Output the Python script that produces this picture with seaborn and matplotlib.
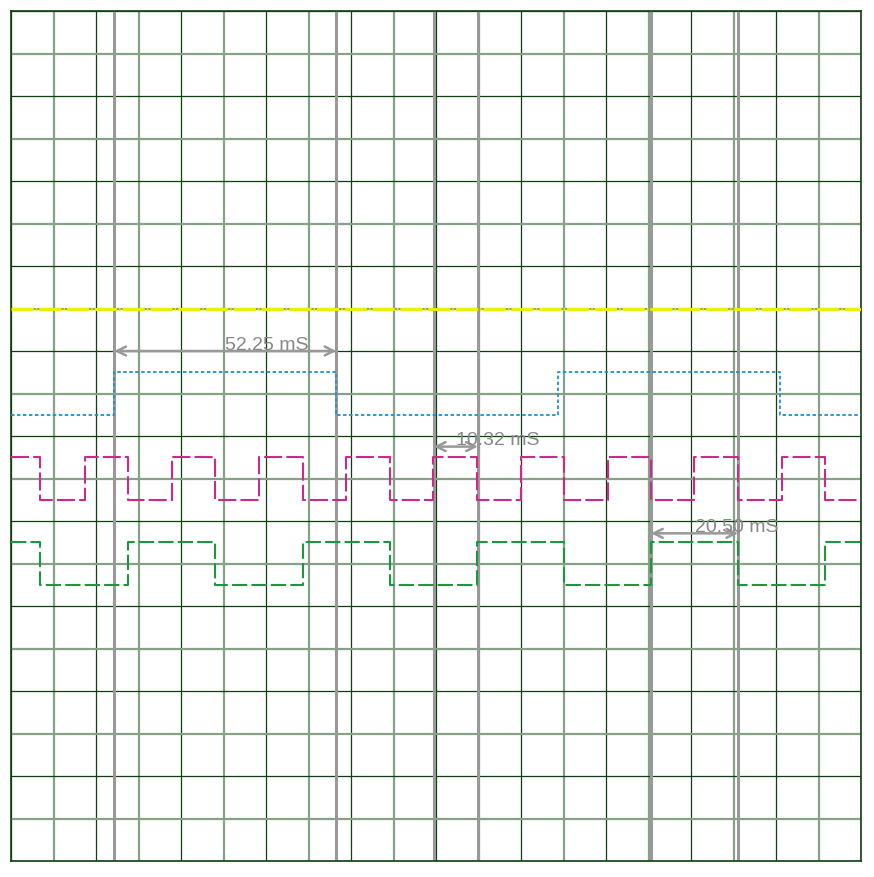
import numpy as np
import pandas as pd
import seaborn as sns
import matplotlib.pyplot as plt

# =============================================================================
# Signal data (time in ms, level in grid divisions from the bottom)
# =============================================================================
T_END = 200.0

# yellow reference trace, flat
yellow_level = 13.0

# blue trace: starts low, toggles at these times
blue_edges = [24.3, 76.55, 128.8, 181.0]
blue_levels = (10.5, 11.5)      # low, high
blue_start_high = False

# magenta clock: starts high
magenta_edges = [6.9, 17.4, 27.5, 37.9, 48.1, 58.4, 68.6, 78.8, 89.2, 99.4,
                 109.7, 119.9, 130.1, 140.4, 150.6, 160.8, 171.1, 181.3, 191.5]
magenta_levels = (8.5, 9.5)
magenta_start_high = True

# green divided clock: starts high
green_edges = [6.9, 27.5, 48.1, 68.6, 89.2, 109.7, 130.1, 150.6, 171.1, 191.5]
green_levels = (6.5, 7.5)
green_start_high = True

# cursor pairs: (start, end, label, arrow level)
cursor_starts = [24.3, 99.5, 150.6]
cursor_ends = [76.55, 109.85, 171.1]
cursor_labels = ["52.25 mS", "10.32 mS", "20.50 mS"]
cursor_levels = [12.0, 9.75, 7.71]

GRID_DARK = "#0f3f0f"
GRID_LIGHT = "#86a286"
CURSOR_GRAY = "#999999"


def step_frame(edges, levels, start_high):
    """Build x/y points for a steps-post line from edge times."""
    xs = [0.0] + list(edges) + [T_END]
    state = start_high
    ys = []
    for _ in range(len(edges) + 1):
        ys.append(levels[1] if state else levels[0])
        state = not state
    ys.append(ys[-1])
    return pd.DataFrame({"t": xs, "v": ys})


sns.set_style("white")
plt.rcParams["font.family"] = ["Liberation Sans", "DejaVu Sans"]
plt.rcParams["lines.scale_dashes"] = False

fig = plt.figure(figsize=(8.74, 8.78), dpi=100)
ax = fig.add_axes([11 / 874, 16 / 878, 850 / 874, 850 / 878])

# grid: dark every 2 divisions, lighter in between
ax.set_xlim(0, T_END)
ax.set_ylim(0, 20)
ax.set_xticks(np.arange(0, 201, 20))
ax.set_xticks(np.arange(10, 200, 20), minor=True)
ax.set_yticks(np.arange(0, 21, 2))
ax.set_yticks(np.arange(1, 20, 2), minor=True)
ax.grid(which="minor", color=GRID_LIGHT, lw=1.6, zorder=0)
ax.grid(which="major", color=GRID_DARK, lw=0.9, zorder=0)
ax.set_axisbelow(True)
ax.tick_params(which="both", length=0, labelbottom=False, labelleft=False)
for sp in ax.spines.values():
    sp.set_color(GRID_DARK)
    sp.set_linewidth(1.2)

# cursors
for x in cursor_starts + cursor_ends:
    ax.axvline(x, color=CURSOR_GRAY, lw=2.2, zorder=1.5)

# traces
yellow = pd.DataFrame({"t": [0.0, T_END], "v": [yellow_level, yellow_level]})
sns.lineplot(data=yellow, x="t", y="v", ax=ax, color="#eeee00", lw=2.2,
             linestyle=(0, (16, 1.5, 1, 1.5)), estimator=None, sort=False, zorder=3)

traces = [
    (blue_edges, blue_levels, blue_start_high, "#1f8fd0", 1.3, (0, (2.5, 1.8))),
    (magenta_edges, magenta_levels, magenta_start_high, "#cc2a88", 1.5, (0, (13, 3))),
    (green_edges, green_levels, green_start_high, "#1e9640", 1.5, (0, (11, 3))),
]
for edges, levels, start_high, col, lw, ls in traces:
    df = step_frame(edges, levels, start_high)
    sns.lineplot(data=df, x="t", y="v", ax=ax, color=col, lw=lw, linestyle=ls,
                 drawstyle="steps-post", estimator=None, sort=False, zorder=3)

# cursor arrows and readouts
for x0, x1, label, lvl in zip(cursor_starts, cursor_ends, cursor_labels, cursor_levels):
    ax.annotate("", xy=(x1, lvl), xytext=(x0, lvl),
                arrowprops=dict(arrowstyle="<->", color=CURSOR_GRAY, lw=1.8,
                                mutation_scale=16, shrinkA=0, shrinkB=0), zorder=4)
    ax.text((x0 + x1) / 2, lvl + 0.05, label, color="#888888", fontsize=14,
            ha="left", va="baseline", zorder=4)

ax.set_xlabel("")
ax.set_ylabel("")

fig.savefig("out.png", dpi=100)
plt.close(fig)
